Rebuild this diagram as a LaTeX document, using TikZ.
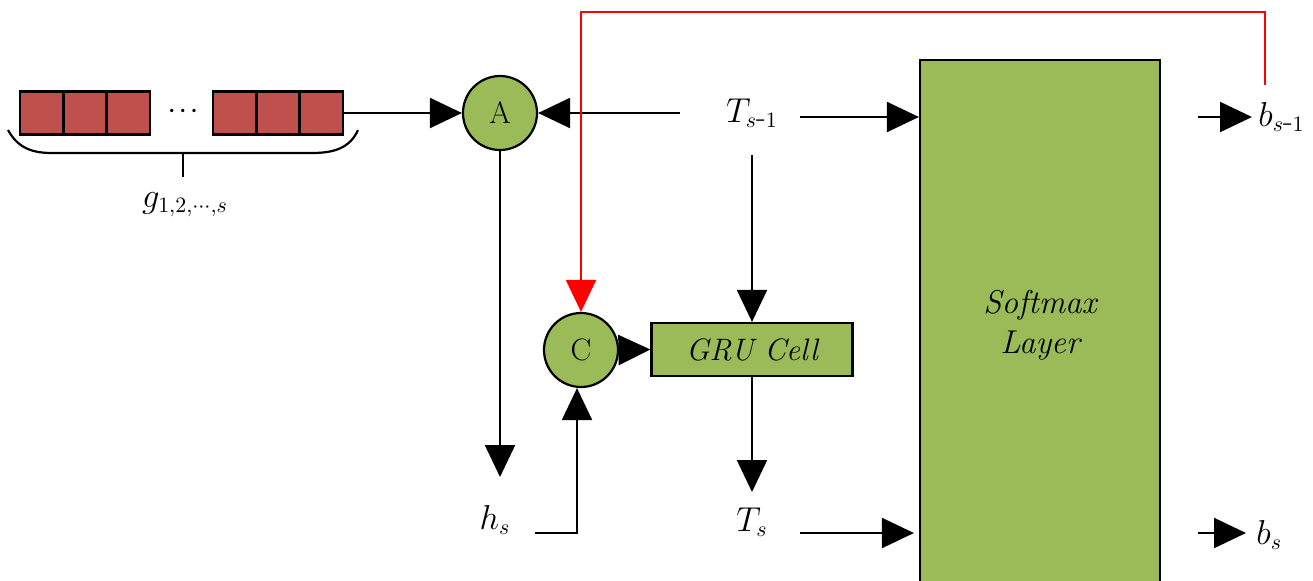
\documentclass[tikz,border=0pt]{standalone}
\usetikzlibrary{arrows.meta,calc}
\definecolor{cellred}{HTML}{C0504D}
\definecolor{cellgreen}{HTML}{9BBB59}
\tikzset{
  conn/.style={line width=1.1pt,-{Triangle[length=16pt,width=15pt]}},
  plain/.style={line width=1.1pt},
  feedback/.style={line width=1.1pt,draw=red,-{Triangle[length=16pt,width=15pt,fill=red]}},
  seqcell/.style={draw,line width=1.1pt,fill=cellred,minimum width=21.5pt,minimum height=21.5pt,inner sep=0pt},
  opnode/.style={circle,draw,line width=1.1pt,fill=cellgreen,minimum size=37pt,inner sep=0pt,font=\fontsize{15.5}{18}\selectfont},
  gatebox/.style={draw,line width=1.1pt,fill=cellgreen,inner sep=0pt,font=\fontsize{15.5}{18}\selectfont\itshape},
  varlabel/.style={inner sep=0pt,font=\fontsize{16}{18}\selectfont},
}
\begin{document}
\begin{tikzpicture}[x=0.5pt,y=-0.5pt]
\useasboundingbox (0,0) rectangle (1313,580);
\clip (0,0) rectangle (1313,580);
% input sequence cells
\foreach \i/\xx in {1/41.5,2/85,3/128.5,4/234.5,5/278,6/321.5}
  \node[seqcell] (g\i) at (\xx,113) {};
\node[inner sep=0pt,font=\fontsize{11}{13}\selectfont\boldmath] (dots) at (183,111) {$\cdots$};
% brace under the sequence
\draw[plain] (8,130) .. controls (18,148) and (32,153) .. (52,153) -- (312,153) .. controls (334,153) and (350,148) .. (358,130);
\coordinate (bracetip) at (183,153);
\coordinate (bracefoot) at (183,177);
\draw[plain] (bracetip) -- (bracefoot);
\node[varlabel] (glab) at (185,205) {$g_{1,2,\cdots,s}$};
% operators and cells
\node[opnode] (A) at (500,113) {A};
\node[opnode] (C) at (581,350) {C};
\node[gatebox,minimum width=100.5pt,minimum height=26.5pt] (gru) at (752,349.5) {GRU Cell};
\node[draw,line width=1.1pt,fill=cellgreen,minimum width=120pt,minimum height=265pt,inner sep=0pt,
      font=\fontsize{16.5}{20}\selectfont\itshape,align=center] (soft) at (1040,325) {Softmax\\Layer};
% variable labels
\node[varlabel] (tprev) at (752,113) {$T_{s\mbox{-}1}$};
\node[varlabel] (hs) at (495,520) {$h_s$};
\node[varlabel] (ts) at (752,522) {$T_s$};
\node[varlabel,anchor=west] (bprev) at (1258,117) {$b_{s\mbox{-}1}$};
\node[varlabel,anchor=west] (bs) at (1256,535) {$b_s$};
% connector end points
\coordinate (tprevL) at (680,113);
\coordinate (tprevR) at (800,117);
\coordinate (tprevD) at (752,155);
\coordinate (hsR) at (535,533);
\coordinate (hsCorner) at (577,533);
\coordinate (hsTop) at (500,477);
\coordinate (tsTop) at (752,492);
\coordinate (tsR) at (800,533);
\coordinate (bprevL) at (1198,117);
\coordinate (bprevEnd) at (1252,117);
\coordinate (bsL) at (1198,533);
\coordinate (bsEnd) at (1246,533);
\coordinate (redStart) at (1265,85);
\coordinate (redTopR) at (1265,12);
\coordinate (redTopL) at (581,12);
% connectors
\draw[conn] (g6.east) -- (A.west);
\draw[conn] (tprevL) -- (A.east);
\draw[conn] (tprevR) -- (tprevR -| soft.west);
\draw[conn] (tprevD) -- (gru.north);
\draw[conn] (A.south) -- (hsTop);
\draw[conn] (hsR) -- (hsCorner) -- (hsCorner |- C.south);
\draw[conn] (C.east) -- (gru.west);
\draw[conn] (gru.south) -- (tsTop);
\draw[conn] (tsR) -- ($(tsR -| soft.west)+(-5,0)$);
\draw[conn] (bprevL) -- (bprevEnd);
\draw[conn] (bsL) -- (bsEnd);
\draw[feedback] (redStart) -- (redTopR) -- (redTopL) -- (C.north);
\end{tikzpicture}
\end{document}
